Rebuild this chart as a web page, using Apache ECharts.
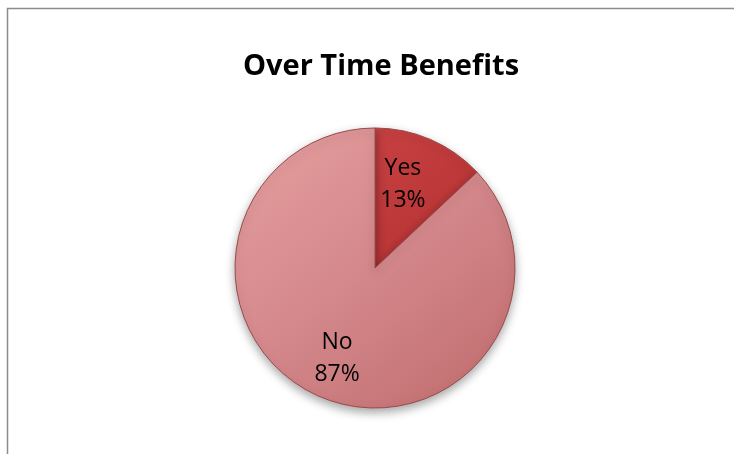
<!DOCTYPE html>
<html>
<head>
<meta charset="utf-8">
<script src="https://cdn.jsdelivr.net/npm/echarts@6/dist/echarts.min.js"></script>
<style>
  html, body { margin: 0; padding: 0; background: #ffffff; }
  #chart { width: 734px; height: 454px; }
</style>
</head>
<body>
<div id="chart"></div>
<script>
// Survey answers and their shares (percent)
const categories = ['Yes', 'No'];
const shares = [13, 87];
const titleText = 'Over Time Benefits';

const sliceColors = [
  new echarts.graphic.LinearGradient(0, 0, 1, 1, [
    { offset: 0, color: '#c84142' },
    { offset: 1, color: '#b33031' }
  ]),
  new echarts.graphic.LinearGradient(0, 0, 0.8, 1, [
    { offset: 0, color: '#e7a0a0' },
    { offset: 0.55, color: '#d3878a' },
    { offset: 1, color: '#c37072' }
  ])
];

// nudges for the label placement inside each slice
const labelOffsets = [[-9, 2], [-1, 5]];

const pieData = categories.map((name, i) => ({
  name: name,
  value: shares[i],
  itemStyle: { color: sliceColors[i] }
}));

const labelData = categories.map((name, i) => ({
  name: name,
  value: shares[i],
  label: { offset: labelOffsets[i] }
}));

const chart = echarts.init(document.getElementById('chart'), null, { renderer: 'canvas' });
chart.setOption({
  backgroundColor: '#ffffff',
  animation: false,
  title: {
    text: titleText,
    left: 376,
    top: 47,
    textAlign: 'center',
    textStyle: {
      fontFamily: 'Open Sans',
      fontWeight: 'bold',
      fontSize: 29,
      color: '#000000'
    }
  },
  graphic: [{
    type: 'rect',
    shape: { x: 7.5, y: 8.5, width: 740, height: 460 },
    style: { fill: 'none', stroke: '#8c8c8c', lineWidth: 1.5 },
    silent: true
  }],
  series: [
    {
      type: 'pie',
      center: [375, 268],
      radius: [0, 140],
      startAngle: 90,
      clockwise: true,
      data: pieData,
      label: { show: false },
      labelLine: { show: false },
      itemStyle: {
        borderColor: '#9a4a4b',
        borderWidth: 1,
        shadowBlur: 10,
        shadowOffsetY: 4,
        shadowColor: 'rgba(0,0,0,0.35)'
      },
      silent: true
    },
    {
      // transparent ring that carries the slice labels
      type: 'pie',
      center: [375, 268],
      radius: [40, 140],
      startAngle: 90,
      clockwise: true,
      data: labelData,
      itemStyle: { color: 'rgba(0,0,0,0)' },
      label: {
        show: true,
        position: 'inside',
        formatter: p => p.name + '\n' + p.value + '%',
        fontFamily: 'Open Sans',
        fontSize: 23,
        lineHeight: 32,
        color: '#000000'
      },
      labelLine: { show: false },
      silent: true
    }
  ]
});
</script>
</body>
</html>
